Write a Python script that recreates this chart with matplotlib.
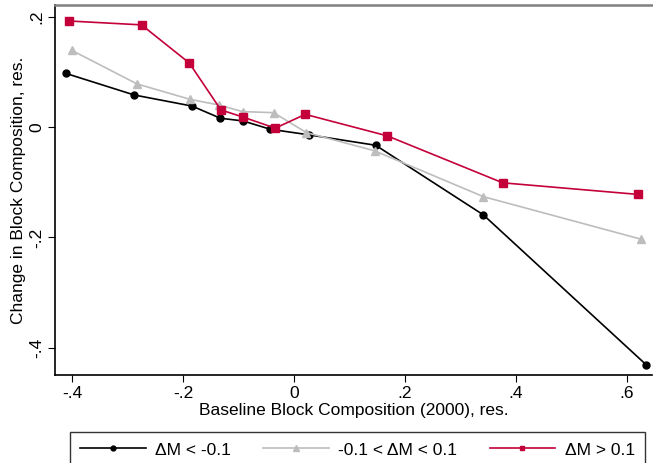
import matplotlib
matplotlib.use("Agg")
import matplotlib.pyplot as plt

plt.rcParams['font.family'] = ['Liberation Sans', 'DejaVu Sans']

x_low = [-0.411, -0.288, -0.184, -0.133, -0.092, -0.043, 0.026, 0.147, 0.341, 0.634]
y_low = [0.097, 0.058, 0.038, 0.016, 0.011, -0.004, -0.014, -0.033, -0.159, -0.430]

x_mid = [-0.401, -0.283, -0.187, -0.136, -0.093, -0.037, 0.022, 0.145, 0.341, 0.625]
y_mid = [0.139, 0.078, 0.050, 0.040, 0.028, 0.026, -0.010, -0.043, -0.126, -0.203]

x_high = [-0.405, -0.275, -0.189, -0.132, -0.092, -0.034, 0.020, 0.168, 0.376, 0.620]
y_high = [0.192, 0.185, 0.116, 0.031, 0.018, -0.002, 0.023, -0.016, -0.101, -0.122]

labels = ["ΔM < -0.1", "-0.1 < ΔM < 0.1", "ΔM > 0.1"]
xticks = [-0.4, -0.2, 0, 0.2, 0.4, 0.6]
xticklabels = ["-.4", "-.2", "0", ".2", ".4", ".6"]
yticks = [-0.4, -0.2, 0, 0.2]
yticklabels = ["-.4", "-.2", "0", ".2"]

red = "#c4003a"
gray = "#bdbdbd"
fs = 12.5

fig = plt.figure(figsize=(6.53, 4.63), dpi=100)
ax = fig.add_axes([55/653, 1-375/463, 597/653, 370/463])

ax.plot(x_low, y_low, color="black", lw=1.2, marker="o", ms=5, label=labels[0])
ax.plot(x_mid, y_mid, color=gray, lw=1.2, marker="^", ms=6, label=labels[1])
ax.plot(x_high, y_high, color=red, lw=1.2, marker="s", ms=5.5, label=labels[2])

ax.set_xlim(-0.431, 0.645)
ax.set_ylim(-0.449, 0.221)
ax.set_xticks(xticks)
ax.set_xticklabels(xticklabels, fontsize=fs)
ax.set_yticks(yticks)
ax.set_yticklabels(yticklabels, fontsize=fs, rotation=90, va="center")
ax.tick_params(direction="out", length=5, width=0.8, color="black", pad=3)

ax.spines["right"].set_visible(False)
ax.spines["top"].set_color("#808080")
ax.spines["top"].set_linewidth(1.8)
ax.spines["left"].set_linewidth(1.2)
ax.spines["bottom"].set_linewidth(1.2)

ax.set_xlabel("Baseline Block Composition (2000), res.", fontsize=fs, labelpad=1)
ax.set_ylabel("Change in Block Composition, res.", fontsize=fs, labelpad=2)

h1, = ax.plot([], [], color="black", lw=1.2, marker="o", ms=3.5)
h2, = ax.plot([], [], color=gray, lw=1.2, marker="^", ms=4)
h3, = ax.plot([], [], color=red, lw=1.2, marker="s", ms=3.5)

leg = fig.legend([h1, h2, h3], labels, loc="upper left",
                 bbox_to_anchor=(70/653, 1-432/463), ncol=3, fontsize=fs,
                 frameon=True, fancybox=False, edgecolor="black",
                 handlelength=3.75, handletextpad=0.57, columnspacing=1.85,
                 borderpad=0.6, borderaxespad=0)
leg.get_frame().set_linewidth(1.0)

fig.savefig("out.png", dpi=100)
